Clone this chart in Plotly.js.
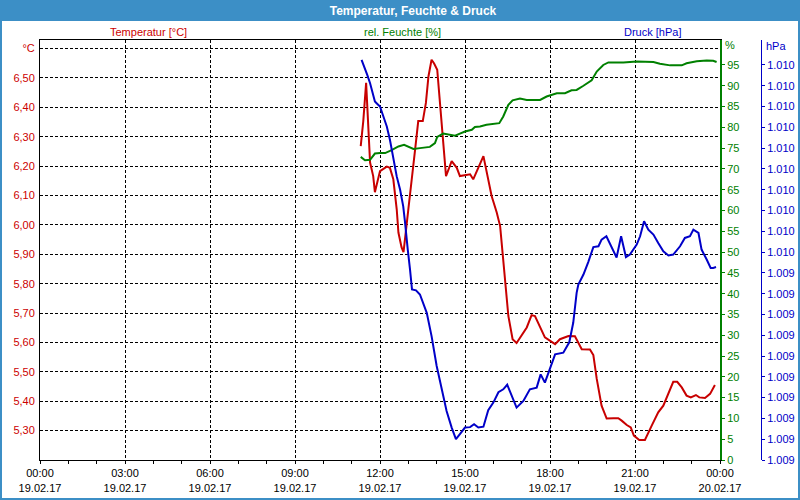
<!DOCTYPE html>
<html><head><meta charset="utf-8">
<script src="https://cdn.plot.ly/plotly-3.0.1.min.js"></script>
<style>html,body{margin:0;padding:0;background:#fff}#chart{width:800px;height:500px}</style>
</head><body><div id="chart"></div>
<script>
// hours since 19.02.17 00:00
var tempHours = [11.32,11.41,11.51,11.65,11.76,11.82,12.0,12.24,12.35,12.47,12.59,12.65,12.76,12.83,13.0,13.12,13.24,13.35,13.51,13.62,13.71,13.82,13.91,14.02,14.12,14.24,14.33,14.53,14.71,14.82,15.18,15.29,15.65,15.94,16.12,16.24,16.29,16.45,16.53,16.68,16.82,17.18,17.35,17.47,17.65,17.82,18.18,18.35,18.65,18.88,19.12,19.41,19.53,19.65,19.82,20.0,20.24,20.41,20.53,20.71,20.85,20.96,21.15,21.35,21.59,21.82,22.0,22.18,22.35,22.49,22.65,22.82,22.97,23.15,23.27,23.47,23.65,23.82];
var tempValues = [6.268,6.353,6.483,6.212,6.166,6.111,6.183,6.198,6.194,6.155,6.053,5.974,5.924,5.907,6.053,6.166,6.257,6.353,6.353,6.415,6.505,6.562,6.549,6.528,6.415,6.257,6.166,6.217,6.194,6.166,6.172,6.155,6.234,6.098,6.042,5.996,5.940,5.770,5.690,5.611,5.598,5.651,5.693,5.690,5.651,5.617,5.594,5.611,5.622,5.621,5.577,5.576,5.557,5.476,5.385,5.341,5.342,5.342,5.334,5.319,5.311,5.283,5.268,5.268,5.317,5.362,5.385,5.425,5.466,5.466,5.447,5.419,5.413,5.421,5.413,5.411,5.425,5.455];

var humHours = [11.32,11.47,11.65,11.82,12.0,12.18,12.41,12.65,12.85,13.0,13.18,13.41,13.76,13.94,14.02,14.23,14.47,14.65,14.82,15.0,15.24,15.35,15.53,15.76,16.21,16.35,16.53,16.68,16.94,17.18,17.65,17.88,18.24,18.53,18.76,18.94,19.18,19.47,19.65,19.88,20.06,20.59,21.06,21.65,21.88,22.24,22.65,22.82,23.18,23.53,23.76,23.88];
var humValues = [72.9,72.1,72.2,73.7,73.8,73.8,74.5,75.4,75.8,75.4,74.8,75.0,75.3,76.2,77.7,78.5,78.2,78.0,78.5,79.0,79.4,80.1,80.2,80.6,81.0,82.6,85.4,86.5,86.9,86.6,86.6,87.4,88.2,88.2,88.9,89.0,90.0,91.3,93.4,95.0,95.6,95.6,95.8,95.7,95.3,94.9,94.9,95.4,95.9,96.1,96.0,95.7];

var presHours = [11.35,11.47,11.55,11.65,11.73,11.82,11.88,12.0,12.12,12.24,12.35,12.47,12.59,12.71,12.82,12.88,12.92,12.98,13.06,13.13,13.27,13.41,13.65,13.82,14.0,14.18,14.35,14.53,14.68,14.82,15.0,15.18,15.32,15.47,15.65,15.82,16.0,16.18,16.35,16.49,16.65,16.82,17.06,17.29,17.53,17.67,17.82,18.0,18.18,18.47,18.68,18.82,18.94,19.0,19.18,19.35,19.53,19.71,19.82,19.99,20.18,20.35,20.51,20.59,20.68,20.82,21.06,21.18,21.32,21.47,21.65,21.82,22.0,22.18,22.35,22.59,22.76,22.94,23.06,23.24,23.35,23.53,23.67,23.76,23.86];
var presValues = [1009.962,1009.942,1009.926,1009.906,1009.886,1009.862,1009.858,1009.850,1009.826,1009.802,1009.770,1009.722,1009.682,1009.650,1009.610,1009.574,1009.538,1009.506,1009.458,1009.410,1009.408,1009.398,1009.354,1009.298,1009.226,1009.170,1009.118,1009.078,1009.050,1009.062,1009.078,1009.079,1009.086,1009.078,1009.080,1009.120,1009.138,1009.163,1009.170,1009.181,1009.154,1009.126,1009.142,1009.170,1009.174,1009.206,1009.186,1009.218,1009.254,1009.258,1009.283,1009.330,1009.402,1009.422,1009.446,1009.476,1009.512,1009.514,1009.530,1009.538,1009.511,1009.487,1009.538,1009.514,1009.488,1009.494,1009.518,1009.538,1009.574,1009.554,1009.542,1009.522,1009.502,1009.492,1009.494,1009.514,1009.534,1009.538,1009.554,1009.546,1009.506,1009.482,1009.462,1009.462,1009.464];

var xTickVals = [0,3,6,9,12,15,18,21,24];
var xTickText = ["00:00<br>19.02.17","03:00<br>19.02.17","06:00<br>19.02.17","09:00<br>19.02.17","12:00<br>19.02.17","15:00<br>19.02.17","18:00<br>19.02.17","21:00<br>19.02.17","00:00<br>20.02.17"];
var tempTickVals = [5.3,5.4,5.5,5.6,5.7,5.8,5.9,6.0,6.1,6.2,6.3,6.4,6.5,6.6];
var tempTickText = ["5,30","5,40","5,50","5,60","5,70","5,80","5,90","6,00","6,10","6,20","6,30","6,40","6,50","°C"];
var humTickVals = [0,5,10,15,20,25,30,35,40,45,50,55,60,65,70,75,80,85,90,95];
var humTickText = ["0","5","10","15","20","25","30","35","40","45","50","55","60","65","70","75","80","85","90","95"];
var presTickVals = [1009.00,1009.05,1009.10,1009.15,1009.20,1009.25,1009.30,1009.35,1009.40,1009.45,1009.50,1009.55,1009.60,1009.65,1009.70,1009.75,1009.80,1009.85,1009.90,1009.95];
var presTickText = ["1.009","1.009","1.009","1.009","1.009","1.009","1.009","1.009","1.009","1.009","1.010","1.010","1.010","1.010","1.010","1.010","1.010","1.010","1.010","1.010"];

var RED = '#c80000', GREEN = '#008000', BLUE = '#0000c8', FRAME = '#3c8fc6';
var FONT = 'Liberation Sans, Arial, sans-serif';
var PW = 721, PH = 420, ML = 40, MT = 40;
function px(p){ return (p - ML) / PW; }
function py(q){ return (MT + PH - q) / PH; }

var traces = [
  {x: tempHours, y: tempValues, type: 'scatter', mode: 'lines', line: {color: RED, width: 2}, yaxis: 'y', hoverinfo: 'skip'},
  {x: humHours, y: humValues, type: 'scatter', mode: 'lines', line: {color: GREEN, width: 2}, yaxis: 'y2', hoverinfo: 'skip'},
  {x: presHours, y: presValues, type: 'scatter', mode: 'lines', line: {color: BLUE, width: 2}, yaxis: 'y3', hoverinfo: 'skip'}
];

var layout = {
  width: 800, height: 500,
  margin: {l: ML, r: 800 - ML - PW, t: MT, b: 500 - MT - PH, pad: 0},
  paper_bgcolor: '#ffffff', plot_bgcolor: '#ffffff',
  showlegend: false,
  font: {family: FONT, size: 11, color: '#000'},
  title: {text: '<b>Temperatur, Feuchte &amp; Druck</b>', x: 413/800, xanchor: 'center', xref: 'container',
          y: 1 - 10.5/500, yanchor: 'middle', yref: 'container', font: {family: FONT, size: 12, color: '#ffffff'}},
  xaxis: {
    domain: [0, 680/721], range: [0, 24], tickmode: 'array', tickvals: xTickVals, ticktext: xTickText,
    showline: true, linecolor: '#000', linewidth: 1, mirror: true,
    ticks: 'outside', ticklen: 3, tickcolor: '#000',
    minor: {tickmode: 'linear', tick0: 0, dtick: 1, ticks: 'outside', ticklen: 3, tickcolor: '#000', showgrid: false},
    showgrid: true, gridcolor: '#000', gridwidth: 1, griddash: '3px,2px', zeroline: false,
    tickfont: {family: FONT, size: 11, color: '#000'}, fixedrange: true
  },
  yaxis: {
    range: [5.2, 6.629], tickmode: 'array', tickvals: tempTickVals, ticktext: tempTickText,
    showline: true, linecolor: '#000', linewidth: 1, ticks: '', ticklabelstandoff: 2,
    showgrid: true, gridcolor: '#000', gridwidth: 1, griddash: '3px,2px', zeroline: false,
    tickfont: {family: FONT, size: 11, color: '#cc0000'}, fixedrange: true
  },
  yaxis2: {
    overlaying: 'y', side: 'right', anchor: 'x', range: [0, 101],
    tickmode: 'array', tickvals: humTickVals, ticktext: humTickText,
    showline: true, linecolor: GREEN, linewidth: 2, ticks: 'outside', ticklen: 3, tickcolor: GREEN,
    showgrid: false, zeroline: false, tickfont: {family: FONT, size: 11, color: GREEN}, fixedrange: true
  },
  yaxis3: {
    overlaying: 'y', side: 'right', anchor: 'free', position: 1, range: [1009.0, 1010.01],
    tickmode: 'array', tickvals: presTickVals, ticktext: presTickText,
    showline: true, linecolor: BLUE, linewidth: 1, ticks: 'outside', ticklen: 3, tickcolor: BLUE,
    showgrid: false, zeroline: false, tickfont: {family: FONT, size: 11, color: BLUE}, fixedrange: true
  },
  shapes: [
    {type: 'rect', xref: 'paper', yref: 'paper', x0: px(0), x1: px(800), y0: py(21), y1: py(0),
     fillcolor: FRAME, line: {width: 0}, layer: 'below'},
    {type: 'rect', xref: 'paper', yref: 'paper', x0: px(1), x1: px(799), y0: py(499), y1: py(1),
     fillcolor: 'rgba(0,0,0,0)', line: {color: FRAME, width: 2}}
  ],
  annotations: [
    {text: 'Temperatur [°C]', xref: 'paper', yref: 'paper', x: px(148), y: py(31.5), xanchor: 'center', yanchor: 'middle', showarrow: false, font: {family: FONT, size: 11, color: '#cc0000'}},
    {text: 'rel. Feuchte [%]', xref: 'paper', yref: 'paper', x: px(402), y: py(31.5), xanchor: 'center', yanchor: 'middle', showarrow: false, font: {family: FONT, size: 11, color: GREEN}},
    {text: 'Druck [hPa]', xref: 'paper', yref: 'paper', x: px(652), y: py(31.5), xanchor: 'center', yanchor: 'middle', showarrow: false, font: {family: FONT, size: 11, color: BLUE}},
    {text: '%', xref: 'paper', yref: 'paper', x: px(723), y: py(45.5), xanchor: 'left', yanchor: 'middle', showarrow: false, font: {family: FONT, size: 11, color: GREEN}},
    {text: 'hPa', xref: 'paper', yref: 'paper', x: px(764), y: py(46), xanchor: 'left', yanchor: 'middle', showarrow: false, font: {family: FONT, size: 11, color: BLUE}}
  ]
};

Plotly.newPlot('chart', traces, layout, {staticPlot: true, displayModeBar: false});
</script>
</body></html>
